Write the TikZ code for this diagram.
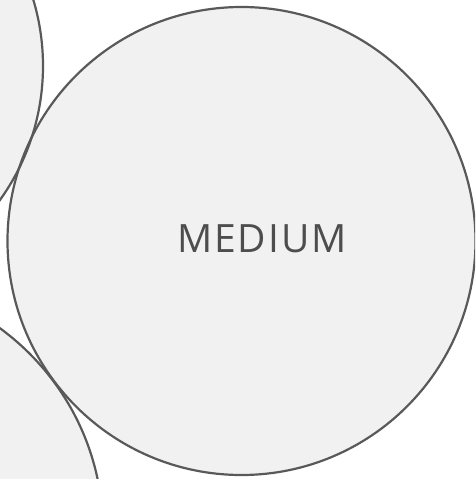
\documentclass[tikz,border=0pt]{standalone}
\usepackage{fontspec}
\setmainfont{Open Sans}
\newfontfamily\spacedfont[LetterSpace=5]{Open Sans}
\definecolor{bubblefill}{HTML}{F1F1F1}
\definecolor{bubbleline}{HTML}{595959}
\definecolor{bubbletext}{HTML}{4D4D4D}

\begin{document}
\begin{tikzpicture}[x=1pt,y=-1pt,
  bub/.style={circle, inner sep=0pt, minimum size=#1, fill=bubblefill},
  rim/.style={circle, inner sep=0pt, minimum size=#1, draw=bubbleline, line width=2.2pt},
  lbl/.style={font=\spacedfont\fontsize{39}{44}\selectfont, text=bubbletext}
]
  \useasboundingbox (0,0) rectangle (475,479);
  \clip (0,0) rectangle (475,479);

  % fills first, outlines on top
  \foreach \name/\cx/\cy/\d in {top/-187/66/460, bot/-148/531/502, mid/241.5/241/468}
    \node[bub=\d pt] (\name) at (\cx,\cy) {};
  \foreach \name/\cx/\cy/\d in {top/-187/66/460, bot/-148/531/502, mid/241.5/241/468}
    \node[rim=\d pt] (\name-rim) at (\cx,\cy) {};

  \node[lbl] (midlabel) at (262,239) {MEDIUM};
\end{tikzpicture}
\end{document}
